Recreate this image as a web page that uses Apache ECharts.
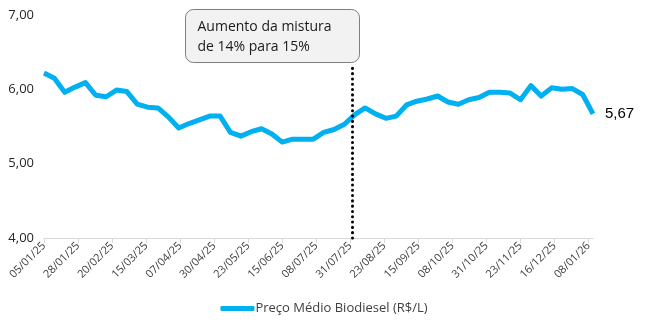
<!DOCTYPE html>
<html>
<head>
<meta charset="utf-8">
<script src="https://cdn.jsdelivr.net/npm/echarts@6/dist/echarts.min.js"></script>
<style>html,body{margin:0;padding:0;background:#fff}#c{width:648px;height:325px}</style>
</head>
<body>
<div id="c"></div>
<script>
// Weekly average biodiesel price (R$/L), first week 05/01/25
const startDate = Date.UTC(2025, 0, 5);
const prices = [6.22,6.15,5.96,6.03,6.09,5.92,5.90,5.99,5.97,5.80,5.76,5.75,5.63,5.48,5.54,5.59,5.64,5.64,5.42,5.37,5.43,5.47,5.40,5.29,5.33,5.33,5.33,5.42,5.46,5.53,5.66,5.75,5.67,5.61,5.64,5.79,5.84,5.87,5.91,5.83,5.80,5.86,5.89,5.96,5.96,5.95,5.86,6.05,5.91,6.02,6.00,6.01,5.93,5.67];
const weekDays = prices.map((_, i) => i * 7);           // day offset of each weekly observation
const tickDays = [0,23,46,69,92,115,138,161,184,207,230,253,276,299,322,345,368]; // 05/01/25 ... 08/01/26
const yTicks = [4, 5, 6, 7];
const seriesName = 'Preço Médio Biodiesel (R$/L)';
const blendChangeDay = 208;   // 01/08/25
const blendLineTop = 6.32;
const calloutLines = ['Aumento da mistura', 'de 14% para 15%'];

function fmtDate(v) {
  const d = new Date(startDate + v * 86400000);
  const dd = String(d.getUTCDate()).padStart(2, '0');
  const mm = String(d.getUTCMonth() + 1).padStart(2, '0');
  const yy = String(d.getUTCFullYear()).slice(2);
  return dd + '/' + mm + '/' + yy;
}
const fmtNum = v => v.toFixed(2).replace('.', ',');

const chart = echarts.init(document.getElementById('c'), null, {renderer: 'canvas'});
chart.setOption({
  animation: false,
  grid: {left: 44, right: 55, top: 15, bottom: 87, containLabel: false},
  xAxis: {
    type: 'value', min: 0, max: 371,
    splitLine: {show: false},
    axisLine: {show: true, lineStyle: {color: '#d9d9d9', width: 1}},
    axisTick: {show: true, customValues: tickDays, length: 5, lineStyle: {color: '#d9d9d9'}},
    axisLabel: {customValues: tickDays, rotate: 45, formatter: fmtDate, color: '#404040',
      fontFamily: 'Open Sans', fontSize: 11, margin: 6}
  },
  yAxis: {
    type: 'value', min: yTicks[0], max: yTicks[yTicks.length - 1], interval: 1,
    splitLine: {show: false}, axisLine: {show: false}, axisTick: {show: false},
    axisLabel: {formatter: fmtNum, color: '#262626', fontFamily: 'Open Sans', fontSize: 13, margin: 10}
  },
  legend: {
    bottom: 5, left: 'center', itemWidth: 34, itemHeight: 5, itemGap: 10,
    icon: 'roundRect',
    textStyle: {color: '#404040', fontFamily: 'Open Sans', fontSize: 13, padding: [0,0,0,-4]},
    data: [seriesName]
  },
  series: [{
    name: seriesName, type: 'line',
    data: weekDays.map((d, i) => [d, prices[i]]),
    showSymbol: false, symbol: 'none',
    lineStyle: {color: '#00b0f0', width: 5, join: 'round'},
    itemStyle: {color: '#00b0f0'},
    endLabel: {show: true, formatter: p => fmtNum(p.value[1]), color: '#000', fontFamily: 'Liberation Sans',
      fontSize: 15, distance: 12},
    markLine: {
      silent: true, symbol: ['none', 'none'],
      lineStyle: {color: '#000', type: [0.1, 5.2], width: 3, cap: 'round'},
      label: {show: false},
      data: [[{coord: [blendChangeDay, yTicks[0]]}, {coord: [blendChangeDay, blendLineTop]}]]
    }
  }],
  graphic: [{
    type: 'group', left: 185, top: 9,
    children: [
      {type: 'rect', shape: {x: 0, y: 0, width: 174, height: 53, r: 8},
       style: {fill: '#f2f2f2', stroke: '#7f7f7f', lineWidth: 1}},
      {type: 'text', x: 12, y: 8, style: {text: calloutLines.join('\n'), fill: '#1a1a1a',
       font: '14px "Open Sans"', lineHeight: 20}}
    ]
  }]
});
</script>
</body>
</html>
